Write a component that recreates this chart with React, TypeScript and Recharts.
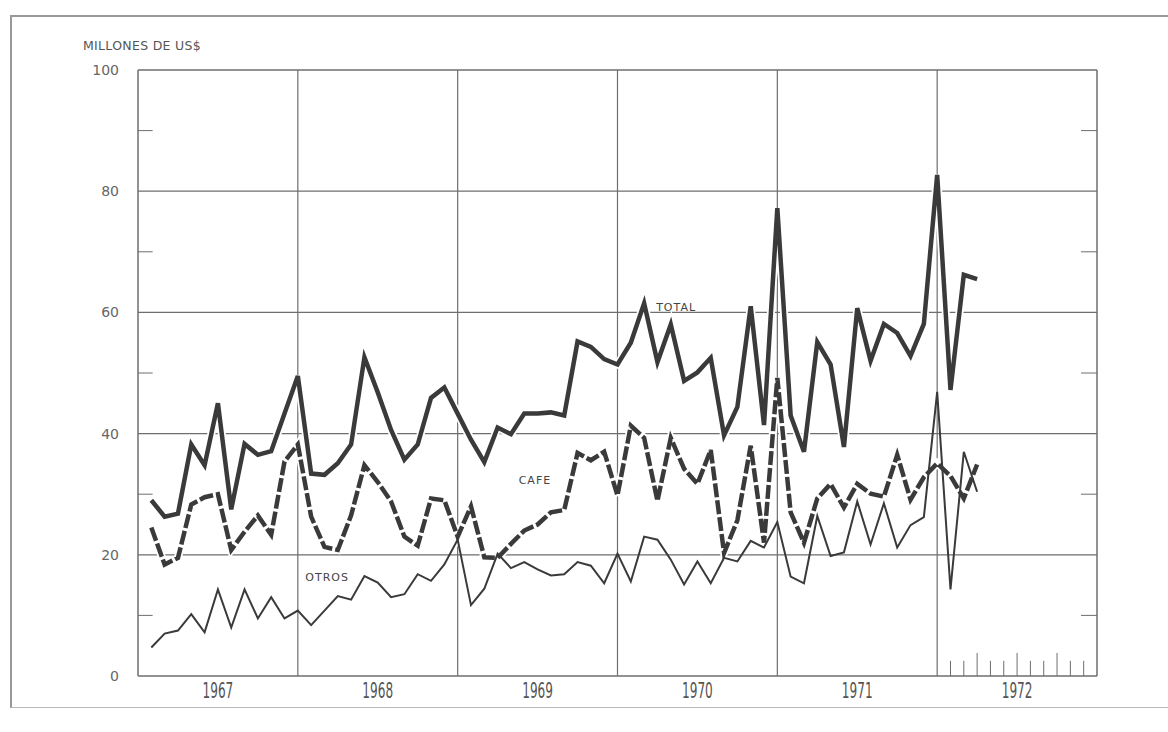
import React from 'react';
import { LineChart, Line, XAxis, YAxis, ReferenceLine, ReferenceDot } from 'recharts';

// monthly values, Jan 1967 .. Mar 1972 (millones de US$)
const total = [
  29.0, 26.3, 26.8, 38.2, 34.8, 45.0, 27.5, 38.3, 36.5, 37.1, 43.3, 49.5,
  33.4, 33.2, 35.1, 38.2, 52.6, 46.8, 40.6, 35.7, 38.2, 45.9, 47.6, 43.3,
  39.0, 35.3, 41.0, 39.9, 43.3, 43.3, 43.5, 43.0, 55.2, 54.3, 52.3, 51.4,
  55.0, 61.5, 51.8, 58.0, 48.7, 50.1, 52.5, 39.7, 44.4, 61.0, 41.4, 77.2,
  43.0, 37.0, 55.1, 51.4, 37.8, 60.7, 52.0, 58.1, 56.6, 52.8, 58.1, 82.7,
  47.2, 66.2, 65.5,
];
const cafe = [
  24.5, 18.4, 19.5, 28.3, 29.5, 30.0, 20.8, 23.8, 26.5, 23.3, 35.4, 38.2,
  26.3, 21.3, 20.8, 26.5, 34.8, 32.0, 28.8, 23.0, 21.5, 29.3, 29.0, 23.0,
  28.0, 19.6, 19.5, 21.8, 24.0, 25.0, 27.0, 27.4, 36.8, 35.6, 37.0, 29.8,
  41.3, 39.3, 28.9, 39.3, 34.2, 31.7, 37.3, 20.3, 25.7, 38.0, 22.0, 49.2,
  27.0, 22.0, 29.3, 31.7, 27.8, 31.7, 30.1, 29.6, 36.5, 29.1, 32.8, 35.1,
  33.0, 29.3, 34.9,
];
const otros = [
  4.7, 7.0, 7.5, 10.2, 7.2, 14.3, 8.0, 14.3, 9.5, 13.0, 9.5, 10.8,
  8.4, 10.8, 13.2, 12.6, 16.5, 15.4, 13.0, 13.5, 16.8, 15.7, 18.4, 22.5,
  11.7, 14.4, 20.2, 17.8, 18.8, 17.6, 16.6, 16.8, 18.8, 18.2, 15.3, 20.2,
  15.6, 23.0, 22.5, 19.2, 15.1, 18.9, 15.3, 19.5, 18.9, 22.3, 21.2, 25.4,
  16.4, 15.3, 26.4, 19.8, 20.4, 28.8, 21.7, 28.5, 21.2, 24.9, 26.2, 46.9,
  14.3, 37.0, 30.4,
];

const years = ['1967', '1968', '1969', '1970', '1971', '1972'];
const yTicks = [0, 20, 40, 60, 80, 100];
const gridY = [20, 40, 60, 80];
const minorY = [10, 30, 50, 70, 90];
const yearLines = [12, 24, 36, 48, 60];
const monthTicks1972 = [61, 62, 64, 65, 67, 68, 70, 71];
const quarterTicks1972 = [63, 66, 69];

const data = total.map((t, i) => ({ m: i + 1, total: t, cafe: cafe[i], otros: otros[i] }));

const INK = '#3a3a3a';
const GRID = '#6e6e6e';

const YearTick = (props: any) => {
  const { x, y, payload } = props;
  const label = years[Math.round((payload.value - 6) / 12)];
  return (
    <g transform={`translate(${x},${y})`}>
      <text
        transform="scale(0.55,1)"
        textAnchor="middle"
        dy="0.71em"
        fontSize={22}
        fill="#555"
        fontFamily="DejaVu Sans, sans-serif"
      >
        {label}
      </text>
    </g>
  );
};

const seriesLabel = (text: string) => (props: any) => {
  const { viewBox } = props;
  return (
    <text
      x={viewBox.x}
      y={viewBox.y}
      textAnchor="middle"
      dominantBaseline="middle"
      fontSize={11}
      letterSpacing={1}
      fill="#444"
      fontFamily="DejaVu Sans, sans-serif"
    >
      {text}
    </text>
  );
};

export default function App() {
  return (
    <div style={{ position: 'absolute', left: 0, top: 0, width: 1168, height: 732, background: '#fff' }}>
      <div
        style={{
          position: 'absolute',
          left: 10,
          top: 15,
          width: 1158,
          height: 690,
          borderTop: '2px solid #999',
          borderLeft: '2px solid #999',
          borderBottom: '1px solid #bbb',
        }}
      />
      <div
        style={{
          position: 'absolute',
          left: 83,
          top: 38,
          fontFamily: 'DejaVu Sans, sans-serif',
          fontSize: 12.5,
          color: '#555',
          letterSpacing: 0.3,
        }}
      >
        MILLONES DE US$
      </div>
      <div style={{ position: 'absolute', left: 0, top: 0 }}>
        <LineChart width={1168} height={732} data={data} margin={{ top: 70, right: 71, bottom: 0, left: 78 }}>
          <XAxis
            dataKey="m"
            type="number"
            domain={[0, 72]}
            ticks={[6, 18, 30, 42, 54, 66]}
            axisLine={false}
            tickLine={false}
            tickSize={0}
            tickMargin={6}
            height={56}
            tick={<YearTick />}
          />
          <YAxis
            type="number"
            domain={[0, 100]}
            ticks={yTicks}
            width={60}
            axisLine={false}
            tickLine={false}
            tickSize={0}
            tickMargin={19}
            tick={{ fontSize: 14, fill: '#666', fontFamily: 'DejaVu Sans, sans-serif' }}
          />
          {gridY.map((v) => (
            <ReferenceLine key={'gy' + v} y={v} stroke={GRID} strokeWidth={1.2} />
          ))}
          {yearLines.map((v) => (
            <ReferenceLine key={'gx' + v} x={v} stroke={GRID} strokeWidth={1.2} />
          ))}
          <ReferenceLine x={0} stroke={GRID} strokeWidth={1.5} />
          <ReferenceLine x={72} stroke={GRID} strokeWidth={1.5} />
          <ReferenceLine y={0} stroke={GRID} strokeWidth={1.5} />
          <ReferenceLine y={100} stroke={GRID} strokeWidth={1.5} />
          {minorY.map((v) => (
            <ReferenceLine key={'ml' + v} segment={[{ x: 0, y: v }, { x: 1.1, y: v }]} stroke={GRID} />
          ))}
          {minorY.map((v) => (
            <ReferenceLine key={'mr' + v} segment={[{ x: 70.8, y: v }, { x: 72, y: v }]} stroke={GRID} />
          ))}
          {monthTicks1972.map((v) => (
            <ReferenceLine key={'t' + v} segment={[{ x: v, y: 0 }, { x: v, y: 2.5 }]} stroke={GRID} />
          ))}
          {quarterTicks1972.map((v) => (
            <ReferenceLine key={'q' + v} segment={[{ x: v, y: 0 }, { x: v, y: 3.8 }]} stroke={GRID} />
          ))}
          <Line dataKey="total" type="linear" stroke="#fff" strokeWidth={8} dot={false} isAnimationActive={false} />
          <Line dataKey="cafe" type="linear" stroke="#fff" strokeWidth={8} dot={false} isAnimationActive={false} />
          <Line dataKey="otros" type="linear" stroke={INK} strokeWidth={2} dot={false} isAnimationActive={false} />
          <Line
            dataKey="cafe"
            type="linear"
            stroke={INK}
            strokeWidth={4.5}
            strokeDasharray="14 3"
            dot={false}
            isAnimationActive={false}
          />
          <Line dataKey="total" type="linear" stroke={INK} strokeWidth={4.5} dot={false} isAnimationActive={false} />
          <ReferenceDot x={40.4} y={60.8} r={0} stroke="none" fill="none" label={seriesLabel('TOTAL')} />
          <ReferenceDot x={29.8} y={32.2} r={0} stroke="none" fill="none" label={seriesLabel('CAFE')} />
          <ReferenceDot x={14.2} y={16.2} r={0} stroke="none" fill="none" label={seriesLabel('OTROS')} />
        </LineChart>
      </div>
    </div>
  );
}
